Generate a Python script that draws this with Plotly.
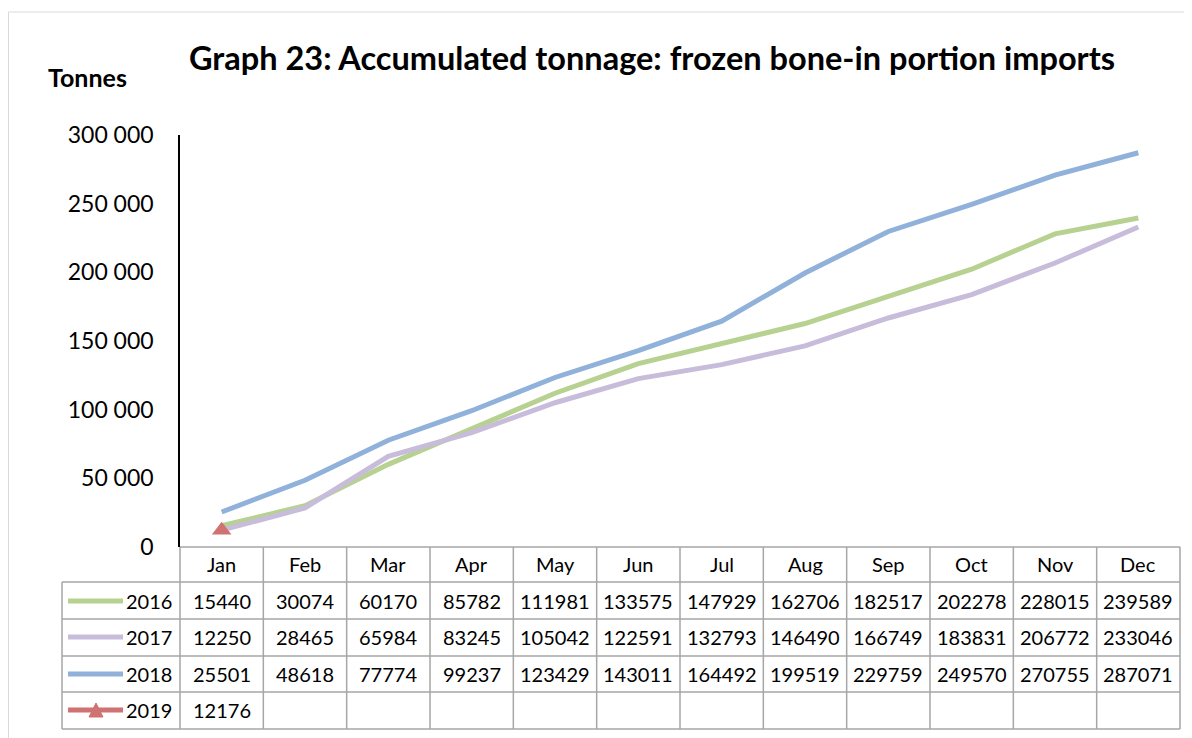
import plotly.graph_objects as go

months = ["Jan", "Feb", "Mar", "Apr", "May", "Jun", "Jul", "Aug", "Sep", "Oct", "Nov", "Dec"]
years = ["2016", "2017", "2018", "2019"]
v2016 = [15440, 30074, 60170, 85782, 111981, 133575, 147929, 162706, 182517, 202278, 228015, 239589]
v2017 = [12250, 28465, 65984, 83245, 105042, 122591, 132793, 146490, 166749, 183831, 206772, 233046]
v2018 = [25501, 48618, 77774, 99237, 123429, 143011, 164492, 199519, 229759, 249570, 270755, 287071]
v2019 = [12176]
series = [v2016, v2017, v2018, v2019]
colors = ["#B6D190", "#C8BCDB", "#90B1D9", "#D07272"]
yticks = [0, 50000, 100000, 150000, 200000, 250000, 300000]

OFF = 8  # page body margin
W, H = 1184, 730
L, R, T, B = 172, 12, 127, 191
PW, PH = W - L - R, H - T - B
FONT = "Lato"
GRID = "#A6A6A6"


def fx(px):
    return (px - OFF - L) / PW


def fy(py):
    return (H - B - (py - OFF)) / PH


fig = go.Figure()
for yr, vals, col in zip(years[:3], series[:3], colors[:3]):
    fig.add_trace(go.Scatter(x=months[:len(vals)], y=vals, mode="lines", name=yr,
                             line=dict(color=col, width=5)))
fig.add_trace(go.Scatter(x=months[:len(v2019)], y=v2019, mode="lines+markers", name="2019",
                         line=dict(color=colors[3], width=5),
                         marker=dict(symbol="triangle-up", size=17, color=colors[3]),
                         cliponaxis=False))

shapes = []
annotations = []

# outer chart border
shapes.append(dict(type="rect", xref="paper", yref="paper", x0=fx(8.5), x1=fx(1215),
                   y0=fy(760), y1=fy(12), line=dict(color="#D9D9D9", width=1)))

# table grid
row_edges = [547, 582, 619, 656, 692, 729]
row_centers = [564, 601, 637, 674, 710]
for i, py in enumerate(row_edges):
    x0 = fx(180) if i == 0 else fx(62)
    shapes.append(dict(type="line", xref="paper", yref="paper", x0=x0, x1=1,
                       y0=fy(py), y1=fy(py), line=dict(color=GRID, width=1.5)))
for k in range(len(months) + 1):
    shapes.append(dict(type="line", xref="paper", yref="paper", x0=k / len(months), x1=k / len(months),
                       y0=fy(547), y1=fy(729), line=dict(color=GRID, width=1.5)))
shapes.append(dict(type="line", xref="paper", yref="paper", x0=fx(62), x1=fx(62),
                   y0=fy(582), y1=fy(729), line=dict(color=GRID, width=1.5)))

# header months
for m in months:
    annotations.append(dict(x=m, xref="x", y=fy(row_centers[0]), yref="paper", text=m,
                            showarrow=False, xanchor="center", yanchor="middle",
                            font=dict(family=FONT, size=20, color="black")))

# data rows
for r, (yr, vals, col) in enumerate(zip(years, series, colors)):
    cy = fy(row_centers[r + 1])
    annotations.append(dict(x=fx(174), xref="paper", y=cy, yref="paper", text=yr,
                            showarrow=False, xanchor="right", yanchor="middle",
                            font=dict(family=FONT, size=20, color="black")))
    shapes.append(dict(type="line", xref="paper", yref="paper", x0=fx(68), x1=fx(123),
                       y0=cy, y1=cy, line=dict(color=col, width=5)))
    for m, v in zip(months, vals):
        annotations.append(dict(x=m, xref="x", y=cy, yref="paper", text=str(v),
                                showarrow=False, xanchor="center", yanchor="middle",
                                font=dict(family=FONT, size=20, color="black")))

# 2019 legend key triangle
tx0, tx1, tm = fx(89), fx(103), fx(96)
ty0, ty1 = fy(717), fy(703)
shapes.append(dict(type="path", xref="paper", yref="paper",
                   path=f"M {tx0},{ty0} L {tx1},{ty0} L {tm},{ty1} Z",
                   fillcolor=colors[3], line=dict(color=colors[3], width=1)))

# title and unit label
annotations.append(dict(x=fx(652), xref="paper", y=fy(58), yref="paper",
                        text="<b>Graph 23: Accumulated tonnage: frozen bone-in portion imports</b>",
                        showarrow=False, xanchor="center", yanchor="middle",
                        font=dict(family=FONT, size=32.5, color="black")))
annotations.append(dict(x=fx(87), xref="paper", y=fy(77), yref="paper", text="<b>Tonnes</b>",
                        showarrow=False, xanchor="center", yanchor="middle",
                        font=dict(family=FONT, size=25, color="black")))

fig.update_layout(
    width=W, height=H,
    margin=dict(l=L, r=R, t=T, b=B),
    paper_bgcolor="white", plot_bgcolor="white",
    showlegend=False,
    separators=". ",
    font=dict(family=FONT, size=20, color="black"),
    shapes=shapes,
    annotations=annotations,
    xaxis=dict(type="category", categoryorder="array", categoryarray=months,
               range=[-0.5, len(months) - 0.5], showticklabels=False, showgrid=False,
               zeroline=False, showline=False, ticks=""),
    yaxis=dict(range=[0, 300000], tickvals=yticks, tickformat=",d", showgrid=False,
               zeroline=False, showline=True, linecolor="black", linewidth=1.5,
               ticks="", ticklabelstandoff=20,
               tickfont=dict(family=FONT, size=23, color="black")),
)

fig.write_html("out.html")
